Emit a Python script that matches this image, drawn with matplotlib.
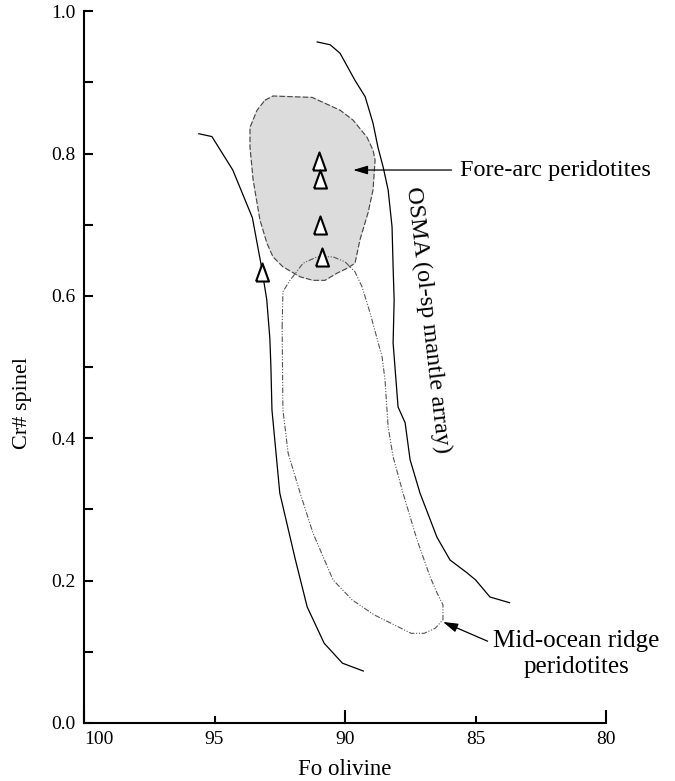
import matplotlib
matplotlib.use("Agg")
import matplotlib.pyplot as plt
from matplotlib.ticker import MultipleLocator

plt.rcParams['font.family'] = 'serif'
plt.rcParams['font.serif'] = ['Liberation Serif', 'DejaVu Serif']

# olivine-spinel mantle array, left (refractory) boundary
osma_left_fo = [95.6, 95.1, 94.3, 93.55, 93.2, 93.0, 92.88, 92.84, 92.8, 92.5, 91.9, 91.45, 90.8, 90.1, 89.3]
osma_left_cr = [0.828, 0.824, 0.777, 0.71, 0.641, 0.595, 0.54, 0.50, 0.44, 0.323, 0.229, 0.163, 0.112, 0.084, 0.073]

# right (fertile) boundary
osma_right_fo = [91.07, 90.57, 90.19, 89.62, 89.23, 88.93, 88.74, 88.54, 88.35, 88.2, 88.16, 88.12, 88.16,
                 87.97, 87.7, 87.51, 87.13, 86.48, 85.98, 85.33, 85.0, 84.45, 83.7]
osma_right_cr = [0.957, 0.953, 0.941, 0.903, 0.88, 0.843, 0.809, 0.781, 0.749, 0.697, 0.641, 0.594, 0.534,
                 0.444, 0.422, 0.37, 0.323, 0.261, 0.229, 0.211, 0.201, 0.177, 0.169]

# fore-arc peridotite field
forearc_fo = [93.07, 92.76, 91.26, 90.19, 89.69, 89.16, 88.93, 88.85, 88.93, 89.12, 89.43, 89.62, 89.92,
              90.31, 90.77, 91.23, 91.72, 92.38, 92.76, 92.99, 93.26, 93.52, 93.64, 93.64, 93.37, 93.07]
forearc_cr = [0.875, 0.881, 0.879, 0.861, 0.847, 0.823, 0.805, 0.791, 0.749, 0.717, 0.679, 0.646, 0.639,
              0.632, 0.622, 0.622, 0.627, 0.641, 0.655, 0.674, 0.707, 0.763, 0.809, 0.837, 0.861, 0.875]

# mid-ocean ridge peridotite field
mor_fo = [92.41, 92.38, 92.11, 91.61, 91.07, 90.46, 90.0, 89.62, 89.35, 89.04, 88.58, 88.47, 88.35, 88.16,
          87.78, 87.24, 86.74, 86.48, 86.25, 86.25, 86.55, 86.97, 87.47, 88.89, 89.73, 90.46, 91.23, 91.72,
          92.18, 92.38, 92.41]
mor_cr = [0.556, 0.606, 0.622, 0.646, 0.655, 0.655, 0.648, 0.634, 0.613, 0.576, 0.514, 0.482, 0.416, 0.374,
          0.323, 0.257, 0.205, 0.183, 0.166, 0.145, 0.133, 0.126, 0.126, 0.152, 0.173, 0.201, 0.267, 0.323,
          0.379, 0.44, 0.556]

# samples
sample_fo = [91.0, 90.95, 90.95, 90.9, 93.2]
sample_cr = [0.790, 0.765, 0.700, 0.655, 0.634]

fig = plt.figure(figsize=(6.75, 7.81), dpi=100)
ax = fig.add_axes([0.1244, 0.0743, 0.7736, 0.9112])

ax.fill(forearc_fo, forearc_cr, color='#dcdcdc', zorder=1)
ax.plot(forearc_fo, forearc_cr, color='#444444', lw=0.8, ls=(0, (5, 2)), zorder=2)
ax.plot(mor_fo, mor_cr, color='#555555', lw=0.8, ls=(0, (5, 1.5, 1, 1.5, 1, 1.5)), zorder=2)
ax.plot(osma_left_fo, osma_left_cr, color='black', lw=0.9, zorder=3)
ax.plot(osma_right_fo, osma_right_cr, color='black', lw=0.9, zorder=3)

tri = [(-0.72, -1), (0.72, -1), (0, 1), (-0.72, -1)]
ax.plot(sample_fo, sample_cr, ls='none', marker=tri, ms=13, mfc='white', mec='black', mew=1.5, zorder=5)

ax.annotate('Fore-arc peridotites', xy=(89.69, 0.777), xytext=(85.6, 0.777),
            fontsize=17.5, va='center', ha='left',
            arrowprops=dict(arrowstyle='-|>,head_length=0.5,head_width=0.15', color='black', lw=0.9,
                            shrinkA=4, shrinkB=0))
ax.annotate('Mid-ocean ridge\nperidotites', xy=(86.25, 0.142), xytext=(81.15, 0.097),
            fontsize=18, va='center', ha='center', multialignment='center', linespacing=1.2,
            arrowprops=dict(arrowstyle='-|>,head_length=0.5,head_width=0.15', color='black', lw=0.9,
                            shrinkA=2, shrinkB=0, relpos=(0.0, 0.72)))
ax.text(86.82, 0.566, 'OSMA (ol-sp mantle array)', fontsize=17.5, rotation=-83.5,
        ha='center', va='center', rotation_mode='anchor')

ax.set_xlim(100, 80)
ax.set_ylim(0, 1.0)
for s in ['top', 'right']:
    ax.spines[s].set_visible(False)
for s in ['left', 'bottom']:
    ax.spines[s].set_linewidth(1.5)

ax.set_xticks([100, 90, 80])
ax.set_xticklabels(['100', '90', '80'])
ax.set_xticks([95, 85], minor=True)
ax.set_xticklabels(['95', '85'], minor=True)
ax.get_xticklabels()[0].set_ha('left')
ax.yaxis.set_major_locator(MultipleLocator(0.2))
ax.yaxis.set_minor_locator(MultipleLocator(0.1))
ax.yaxis.set_major_formatter(matplotlib.ticker.FormatStrFormatter('%.1f'))
ax.tick_params(axis='x', which='major', direction='in', length=9.5, width=1.5, labelsize=14, pad=6)
ax.tick_params(axis='x', which='minor', direction='in', length=5, width=1.5, labelsize=14, pad=6)
ax.tick_params(axis='y', which='both', direction='in', length=6.5, width=1.5, labelsize=14, pad=6)

ax.set_xlabel('Fo olivine', fontsize=16.5, labelpad=8)
ax.set_ylabel('Cr# spinel', fontsize=16)
ax.yaxis.set_label_coords(-0.1, 0.45)

fig.savefig('out.png', dpi=100)
